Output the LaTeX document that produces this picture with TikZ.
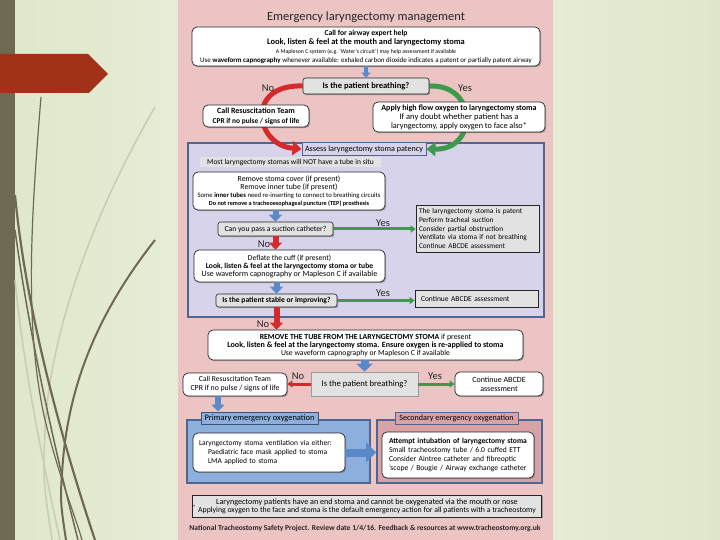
\documentclass[tikz,border=0pt]{standalone}
\usepackage{fontspec}
\setmainfont{Carlito}
\usetikzlibrary{arrows.meta,shadows}
\pgfdeclarelayer{back}
\pgfdeclarelayer{mid}
\pgfsetlayers{back,mid,main}
\newcommand{\fz}[2]{\fontsize{#1}{#2}\selectfont}
\definecolor{bgg}{HTML}{DFE7CA}
\definecolor{bgl}{HTML}{EEF2E3}
\definecolor{olive}{HTML}{6E6951}
\definecolor{banner}{HTML}{A2311A}
\definecolor{pinkbg}{HTML}{EBC4C3}
\definecolor{lav}{HTML}{D6D3EA}
\definecolor{panelb}{HTML}{4D6692}
\definecolor{boxg}{HTML}{E2E2E2}
\definecolor{arrb}{HTML}{5A89C8}
\definecolor{arrr}{HTML}{D52A2C}
\definecolor{arrg}{HTML}{3D9A4A}
\definecolor{pblue}{HTML}{8CAFDD}
\definecolor{srose}{HTML}{D9A2A6}
\definecolor{grassl}{HTML}{C8CCB3}
\tikzset{
 shad/.style={drop shadow={shadow xshift=1.2pt,shadow yshift=-1.2pt,opacity=0.5,fill=black!60}},
 wbox/.style={shad, draw=black!85, line width=0.7pt, fill=white, rounded corners=5pt, inner sep=1pt, align=center},
 gbox/.style={shad, draw=black!85, line width=0.6pt, fill=boxg, inner sep=1pt, align=center},
 gqbox/.style={gbox, rounded corners=2.5pt},
 lbl/.style={font=\fz{10.5}{12}, text=black!85, inner sep=0pt},
 barr/.style={draw=arrb, line width=6pt, -{Triangle[width=13pt,length=7pt]}},
 barrs/.style={draw=arrb, line width=4pt, -{Triangle[width=9pt,length=5pt]}},
 rarr/.style={draw=arrr, line width=6pt, -{Triangle[width=13pt,length=7pt]}},
 hrarr/.style={draw=arrr, line width=3pt, -{Triangle[width=7pt,length=5pt]}},
 hgarr/.style={draw=arrg, line width=3pt, -{Triangle[width=7pt,length=5pt]}},
 rcurve/.style={draw=arrr, line width=5pt, -{Triangle[width=14pt,length=9pt]}},
 gcurve/.style={draw=arrg, line width=5pt, -{Triangle[width=14pt,length=9pt]}},
 panelbox/.style={draw=panelb, line width=1.6pt, inner sep=0pt},
}
\begin{document}
\begin{tikzpicture}[x=1pt,y=-1pt]
\useasboundingbox (0,0) rectangle (720,540);
\begin{pgfonlayer}{back}
 \shade[left color=bgg, right color=bgg, middle color=bgl] (0,0) rectangle (720,540);
 \fill[olive] (0,0) rectangle (15,540);
 \fill[banner] (0,54) -- (88,54) -- (108,74) -- (89,93) -- (0,93) -- cycle;
 \draw[grassl, line width=1.5pt] (155,107) .. controls (95,210) and (50,330) .. (45,430) .. controls (43,480) .. (52,540);
 \draw[grassl, line width=1.5pt] (15,280) .. controls (25,380) and (45,470) .. (60,540);
 \draw[olive, line width=1.2pt] (41,97) .. controls (30,230) and (25,330) .. (45,420) .. controls (60,480) and (75,515) .. (82,540);
 \draw[olive, line width=2.2pt] (15,195) .. controls (25,300) and (55,420) .. (95,540);
 \draw[olive, line width=1.5pt] (15,230) .. controls (30,340) and (55,450) .. (78,540);
 \draw[olive, line width=2pt] (155,240) .. controls (100,310) and (70,380) .. (63,460) .. controls (60,500) .. (66,540);
 \fill[pinkbg] (178,0) rectangle (553,540);
 \node[panelbox, fill=lav, minimum width=356pt, minimum height=174pt] (panel) at (366,230) {};
 \node[panelbox, fill=pblue, minimum width=183pt, minimum height=63pt] (ppanel) at (278.5,451.5) {};
 \node[panelbox, fill=srose, minimum width=165pt, minimum height=63pt] (spanel) at (459.5,451.5) {};
\end{pgfonlayer}

\node[font=\fz{12.5}{14}, text=black!85] (title) at (366,17) {Emergency laryngectomy management};

\node[wbox, minimum width=348pt, minimum height=39pt, font=\fz{6}{9}] (start) at (366,46.5)
 {\fz{7.6}{9}\bfseries Call for airway expert help\\
  \fz{8.4}{9}\bfseries Look, listen \& feel at the mouth and laryngectomy stoma\\
  \fz{5.8}{9}A Mapleson C system (e.g. ‘Water’s circuit’) may help assessment if available\\
  \fz{7}{9}Use \textbf{waveform capnography} whenever available: exhaled carbon dioxide indicates a patent or partially patent airway};

\node[gqbox, minimum width=126pt, minimum height=16pt] (q1) at (366,86) {\fz{8.5}{9}\bfseries Is the patient breathing?};

\node[wbox, minimum width=106pt, minimum height=22pt, font=\fz{6}{10}] (call1) at (256,116)
 {\fz{8}{9}\bfseries Call Resuscitation Team\\ \fz{7.4}{9}\bfseries CPR if no pulse / signs of life};

\node[wbox, minimum width=172pt, minimum height=30pt, font=\fz{6}{9}] (apply) at (459,117)
 {\fz{8}{9}\bfseries Apply high flow oxygen to laryngectomy stoma\\
  \fz{8.5}{9}If any doubt whether patient has a\\
  \fz{8.2}{9}laryngectomy, apply oxygen to face also*};

\node[draw=panelb, line width=1pt, fill=lav, minimum width=124pt, minimum height=13pt, inner sep=0pt] (assess) at (364,149)
 {\fz{8.1}{9}Assess laryngectomy stoma patency};

\node[fill=boxg, minimum width=181pt, minimum height=10pt, inner sep=0pt] (most) at (290.5,162.5)
 {\fz{7.5}{8}Most laryngectomy stomas will NOT have a tube in situ};

\node[wbox, minimum width=192pt, minimum height=38pt, font=\fz{6}{8}] (remove) at (289,191)
 {\fz{7.8}{8}Remove stoma cover (if present)\\
  \fz{7.8}{8}Remove inner tube (if present)\\
  \fz{6.7}{8}Some \textbf{inner tubes} need re-inserting to connect to breathing circuits\\
  \fz{6.2}{8}\bfseries Do not remove a tracheoesophageal puncture (TEP) prosthesis};

\node[gqbox, minimum width=115pt, minimum height=14pt] (suction) at (275.5,229) {\fz{7.7}{8}Can you pass a suction catheter?};

\node[gbox, minimum width=123pt, minimum height=47pt, text width=117pt, inner xsep=3pt, align=left, font=\fz{7.3}{8.8}] (patent) at (477.5,228.5)
 {The laryngectomy stoma is patent\\ Perform tracheal suction\\ Consider partial obstruction\\ Ventilate via stoma if not breathing\\ Continue ABCDE assessment};

\node[wbox, minimum width=191pt, minimum height=32pt, font=\fz{6}{8}] (deflate) at (289.5,266)
 {\fz{7.6}{8}Deflate the cuff (if present)\\
  \fz{7.6}{8}\bfseries Look, listen \& feel at the laryngectomy stoma or tube\\
  \fz{8}{8}Use waveform capnography or Mapleson C if available};

\node[gqbox, minimum width=121pt, minimum height=13pt] (stable) at (276.5,300.5) {\fz{7.6}{8}\bfseries Is the patient stable or improving?};

\node[gbox, minimum width=123pt, minimum height=17pt, text width=111pt, inner xsep=6pt, align=left, font=\fz{7.5}{8}] (cont1) at (476.5,298.5)
 {Continue ABCDE assessment};

\node[wbox, minimum width=315pt, minimum height=30pt, font=\fz{6}{8}] (rtube) at (365.5,345)
 {\fz{7.8}{8}\textbf{REMOVE THE TUBE FROM THE LARYNGECTOMY STOMA} if present\\
  \fz{8}{8}\bfseries Look, listen \& feel at the laryngectomy stoma. Ensure oxygen is re-applied to stoma\\
  \fz{7.7}{8}Use waveform capnography or Mapleson C if available};

\node[gbox, draw=black!40, minimum width=107pt, minimum height=24pt] (q2) at (364.5,384) {\fz{8.6}{9}Is the patient breathing?};

\node[wbox, minimum width=104pt, minimum height=23pt, font=\fz{6}{9}] (call2) at (235,384.5)
 {\fz{7.6}{9}Call Resuscitation Team\\ \fz{7.8}{9}CPR if no pulse / signs of life};

\node[wbox, minimum width=88pt, minimum height=24pt, font=\fz{6}{9}] (cont2) at (499,384)
 {\fz{8}{9}Continue ABCDE\\ \fz{8}{9}assessment};

\node[draw=panelb!80!black, line width=1pt, fill=pblue, minimum width=117pt, minimum height=12pt, inner sep=0pt] (phead) at (259.5,418)
 {\fz{8.4}{9}Primary emergency oxygenation};
\node[draw=panelb, line width=1pt, fill=srose, minimum width=123pt, minimum height=12pt, inner sep=0pt] (shead) at (456.5,418)
 {\fz{8.1}{9}Secondary emergency oxygenation};

\node[wbox, minimum width=152pt, minimum height=39pt, text width=140pt, inner xsep=6pt, align=left, font=\fz{7.5}{9}] (pwhite) at (269,452.5)
 {Laryngectomy stoma ventilation via either:\\
  \hspace*{9pt}Paediatric face mask applied to stoma\\
  \hspace*{9pt}LMA applied to stoma};

\node[wbox, minimum width=152pt, minimum height=46pt, text width=138pt, inner xsep=7pt, align=left, font=\fz{7.6}{9}] (swhite) at (458,455)
 {\textbf{Attempt intubation of laryngectomy stoma}\\
  Small tracheostomy tube / 6.0 cuffed ETT\\
  Consider Aintree catheter and fibreoptic\\
  ’scope / Bougie / Airway exchange catheter};

\node[gbox, minimum width=349pt, minimum height=22pt, font=\fz{6}{8}] (footer) at (367,506)
 {\fz{8.1}{8}Laryngectomy patients have an end stoma and cannot be oxygenated via the mouth or nose\\
  \fz{7.8}{8}Applying oxygen to the face and stoma is the default emergency action for all patients with a tracheostomy};
\node[font=\fz{6}{6}, inner sep=0pt] (star) at (194,507) {*};

\node[font=\fz{7.6}{8}\bfseries, text=black!85] (credit) at (365,528)
 {National Tracheostomy Safety Project. Review date 1/4/16. Feedback \& resources at www.tracheostomy.org.uk};

% labels
\node[lbl] (no1) at (268,88) {No};
\node[lbl] (yes1) at (465,88) {Yes};
\node[lbl] (yes2) at (383,223) {Yes};
\node[lbl] (no2) at (264,244) {No};
\node[lbl] (yes3) at (383,293) {Yes};
\node[lbl] (no3) at (263,324) {No};
\node[lbl] (no4) at (298,376) {No};
\node[lbl] (yes4) at (435,376) {Yes};

% curved arrows behind boxes
\begin{pgfonlayer}{mid}
 \draw[rcurve] (q1.west) .. controls (245,84) and (255,145) .. (assess.west);
 \draw[gcurve] (q1.east) .. controls (478,84) and (478,150) .. (assess.east);
\end{pgfonlayer}

% straight arrows
\draw[barrs] (start.south) -- (q1.north);
\draw[barr] (remove.south -| suction.north) -- (suction.north);
\draw[rarr] (suction.south) -- (suction.south |- deflate.north);
\draw[barr] (deflate.south -| stable.north) -- (stable.north);
\draw[rarr] (stable.south) -- (stable.south |- rtube.north);
\draw[barr, line width=8pt, -{Triangle[width=16pt,length=8pt]}] (rtube.south -| q2.north) -- (q2.north);
\draw[hgarr] (suction.east) -- (suction.east -| patent.west);
\draw[hgarr] (stable.east) -- (stable.east -| cont1.west);
\draw[hrarr] (q2.west) -- (q2.west -| call2.east);
\draw[hgarr] (q2.east) -- (q2.east -| cont2.west);
\draw[barr] ([xshift=-17pt]call2.south) -- ([xshift=-17pt]call2.south |- phead.north);
\draw[barr, line width=8pt, -{Triangle[width=19pt,length=10pt]}] (pwhite.east) -- (pwhite.east -| spanel.west);
\end{tikzpicture}
\end{document}
